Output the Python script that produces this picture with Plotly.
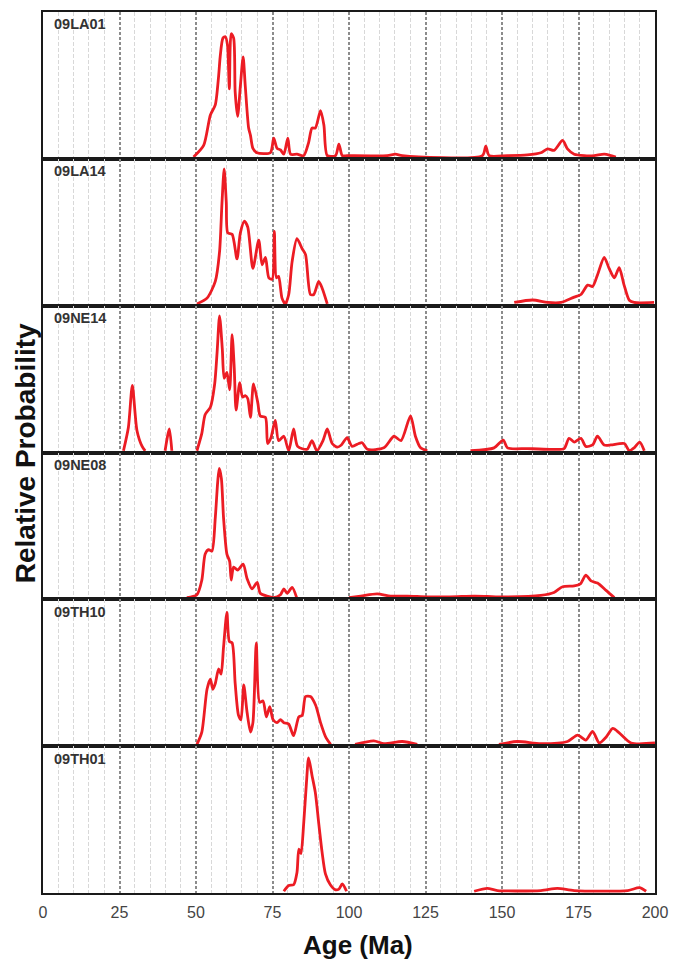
import plotly.graph_objects as go
from plotly.subplots import make_subplots

sample_names = ["09LA01", "09LA14", "09NE14", "09NE08", "09TH10", "09TH01"]
tick_values = [0, 25, 50, 75, 100, 125, 150, 175, 200]
tick_labels = ["0", "25", "50", "75", "100", "125", "150", "175", "200"]

# 09LA01
age_la01 = [49.2, 52.5, 54.7, 56.3, 57.4, 57.9, 58.8, 59.6, 60.3, 60.9, 61.5, 62.3, 62.8, 63.6, 64.5,
            65.4, 66.1, 67.2, 67.8, 68.6, 69.9, 74.3, 75.4, 76.5, 77.6, 78.7, 80.0, 80.9, 83.0, 85.2,
            86.8, 87.9, 89.0, 90.7, 91.8, 92.9, 95.6, 96.7, 97.8, 99.4, 112.5, 115.2, 117.4, 143.6,
            144.7, 145.8, 151.8, 158.3, 162.7, 164.9, 167.0, 169.8, 171.4, 173.6, 176.9, 180.1,
            183.4, 185.6, 187.2]
prob_la01 = [0, 0.08, 0.29, 0.36, 0.56, 0.69, 0.82, 0.83, 0.77, 0.47, 0.85, 0.82, 0.45, 0.28, 0.49,
             0.69, 0.49, 0.20, 0.15, 0.06, 0.03, 0.03, 0.13, 0.06, 0.05, 0.02, 0.13, 0.02, 0.02, 0.01,
             0.10, 0.20, 0.20, 0.32, 0.22, 0.01, 0.01, 0.09, 0.01, 0.01, 0.01, 0.02, 0.01, 0.01,
             0.076, 0.01, 0.01, 0.015, 0.03, 0.057, 0.046, 0.115, 0.057, 0.02, 0.01, 0.01,
             0.02, 0.01, 0]

# 09LA14
age_la14 = [50.3, 53.6, 56.3, 57.7, 58.5, 59.2, 59.9, 60.4, 61.8, 63.4, 64.5, 65.8, 66.9, 68.6, 70.5,
            71.6, 72.7, 73.8, 74.9, 75.6, 76.3, 77.0, 78.1, 79.2, 80.3, 81.4, 83.0, 84.7, 85.8, 87.4,
            88.5, 90.1, 91.2, 92.9, None, 154.0, 160.0, 164.9, 169.3, 173.6, 175.8, 178.0, 179.6,
            181.2, 183.4, 185.0, 186.7, 188.3, 189.9, 191.6, 193.2, 199.7]
prob_la14 = [0.0, 0.04, 0.155, 0.36, 0.70, 0.93, 0.70, 0.49, 0.48, 0.31, 0.49, 0.57, 0.53, 0.245, 0.44,
             0.27, 0.32, 0.18, 0.17, 0.50, 0.18, 0.19, 0.04, 0.0, 0.065, 0.29, 0.45, 0.38, 0.34, 0.065,
             0.065, 0.155, 0.11, 0.0, None, 0.01, 0.027, 0.01, 0.01, 0.047, 0.065, 0.13, 0.12,
             0.20, 0.32, 0.245, 0.18, 0.25, 0.13, 0.025, 0.01, 0.01]

# 09NE14
age_ne14 = [26.3, 27.9, 29.2, 30.7, 32.4, 33.4, None, 39.9, 40.7, 41.3, 42.1, None,
            50.3, 51.9, 53.0, 54.7, 56.1, 56.9, 57.7, 58.6, 59.2, 60.1, 61.0, 61.8, 62.5, 63.1, 64.3,
            65.2, 66.1, 66.9, 67.8, 68.8, 70.2, 71.0, 72.7, 73.4, 74.5, 75.9, 77.0, 78.7, 80.3, 81.9,
            83.2, 86.3, 87.9, 89.5, 91.5, 92.9, 94.5, 96.2, 97.5, 99.4, 101.0, 103.2, 104.3, 106.0,
            111.4, 114.7, 117.0, 120.1, 121.7, 123.4, 125.6, None,
            139.7, 147.4, 150.4, 151.8, 158.3, 165.9, 170.3, 171.9, 173.6, 175.8, 177.4, 179.6,
            181.2, 183.4, 185.6, 190.0, 191.6, 193.2, 195.0, 196.5]
prob_ne14 = [0, 0.16, 0.45, 0.14, 0.03, 0, None, 0, 0.10, 0.15, 0, None,
             0, 0.12, 0.25, 0.30, 0.46, 0.68, 0.93, 0.70, 0.50, 0.54, 0.42, 0.80, 0.57, 0.28, 0.47,
             0.37, 0.38, 0.36, 0.23, 0.46, 0.33, 0.24, 0.23, 0.05, 0.09, 0.21, 0.07, 0.10, 0.0, 0.15,
             0.03, 0.01, 0.07, 0.0, 0.07, 0.15, 0.05, 0.025, 0.04, 0.09, 0.03, 0.05, 0.055, 0.01,
             0.02, 0.10, 0.07, 0.24, 0.10, 0.02, 0.0, None,
             0.0, 0.02, 0.074, 0.02, 0.015, 0.01, 0.015, 0.086, 0.06, 0.086, 0.03, 0.04,
             0.10, 0.04, 0.04, 0.05, 0.0, 0.02, 0.06, 0.0]

# 09NE08
age_ne08 = [47.0, 50.3, 51.9, 53.0, 54.1, 55.2, 56.3, 57.1, 57.6, 58.3, 59.0, 60.1, 61.0, 61.5, 62.3,
            63.6, 65.4, 66.7, 68.3, 70.0, 71.0, 73.2, 75.4, 77.6, 78.7, 79.8, 81.4, 82.9, None,
            100.0, 103.8, 109.2, 113.6, 119.0, 125.6, 133.0, 140.9, 145.2, 150.7, 162.7, 167.0,
            169.8, 173.6, 175.6, 177.4, 179.1, 181.2, 184.0, 186.7]
prob_ne08 = [0, 0.02, 0.12, 0.30, 0.33, 0.32, 0.55, 0.80, 0.89, 0.82, 0.55, 0.30, 0.25, 0.12, 0.21,
             0.19, 0.23, 0.13, 0.06, 0.105, 0.03, 0.01, 0.0, 0.02, 0.06, 0.03, 0.07, 0.0, None,
             0.0, 0.01, 0.025, 0.01, 0.01, 0.005, 0.005, 0.01, 0.008, 0.005, 0.015, 0.035,
             0.075, 0.08, 0.094, 0.155, 0.115, 0.10, 0.05, 0.0]

# 09TH10
age_th10 = [50.3, 51.9, 53.6, 54.7, 55.5, 56.3, 57.4, 58.2, 59.0, 60.1, 60.9, 61.8, 62.8, 63.9, 64.7,
            65.6, 66.7, 67.8, 68.6, 69.7, 70.8, 71.9, 73.0, 74.1, 75.2, 76.5, 77.6, 78.7, 80.3, 81.9,
            83.6, 84.7, 85.8, 87.4, 89.1, 90.7, 92.4, 94.0, None,
            102.0, 108.1, 111.4, 117.4, 122.3, None,
            149.0, 155.0, 162.7, 171.4, 174.7, 177.4, 179.6, 181.8, 184.0, 186.2, 188.3, 192.2, 200.0]
prob_th10 = [0, 0.085, 0.38, 0.45, 0.38, 0.42, 0.52, 0.485, 0.67, 0.91, 0.71, 0.70, 0.42, 0.20, 0.17,
             0.41, 0.22, 0.085, 0.15, 0.70, 0.29, 0.30, 0.19, 0.26, 0.17, 0.15, 0.17, 0.15, 0.14, 0.06,
             0.19, 0.20, 0.33, 0.33, 0.27, 0.15, 0.05, 0.0, None,
             0.0, 0.025, 0.005, 0.02, 0.0, None,
             0.0, 0.02, 0.005, 0.02, 0.064, 0.03, 0.09, 0.01, 0.05, 0.11, 0.08, 0.01, 0.01]

# 09TH01
age_th01 = [78.7, 80.3, 81.9, 83.0, 83.6, 84.3, 85.2, 86.1, 86.8, 87.9, 89.0, 90.1, 91.2, 92.3, 93.9,
            95.6, 96.7, 97.8, 99.2, None, 140.9, 145.2, 148.5, 162.7, 168.1, 173.6, 191.1, 194.9, 197.1]
prob_th01 = [0, 0.04, 0.045, 0.13, 0.29, 0.26, 0.47, 0.75, 0.92, 0.80, 0.68, 0.47, 0.27, 0.12, 0.045,
             0.01, 0.015, 0.05, 0.0, None, 0.0, 0.02, 0.005, 0.005, 0.02, 0.005, 0.005, 0.025, 0.0]

ages = [age_la01, age_la14, age_ne14, age_ne08, age_th10, age_th01]
probs = [prob_la01, prob_la14, prob_ne14, prob_ne08, prob_th10, prob_th01]

FONT = "Liberation Sans, Arial, Helvetica, sans-serif"
n = len(sample_names)

fig = make_subplots(rows=n, cols=1, shared_xaxes=True, vertical_spacing=0)

for i, (name, a, p) in enumerate(zip(sample_names, ages, probs)):
    fig.add_trace(go.Scatter(x=a, y=p, mode="lines", name=name, connectgaps=False,
                             line=dict(color="#ec1c24", width=2.8, shape="spline", smoothing=0.7),
                             showlegend=False),
                  row=i + 1, col=1)
    yref = "y domain" if i == 0 else f"y{i + 1} domain"
    fig.add_annotation(text=f"<b>{name}</b>", xref="paper", yref=yref, x=0.015, y=0.915,
                       xanchor="left", yanchor="middle", showarrow=False,
                       font=dict(family=FONT, size=14.5, color="#333333"))

for i in range(n):
    fig.update_xaxes(range=[0, 200], tickvals=tick_values, ticktext=tick_labels,
                     showgrid=True, gridcolor="#8c8c8c", gridwidth=1.6, griddash="3px,2px",
                     minor=dict(tickvals=[v for v in range(5, 200, 5) if v % 25 != 0],
                                showgrid=True, gridcolor="#d8d8d8", gridwidth=1, griddash="4px,2px"),
                     showline=True, mirror=True, linecolor="#1a1a1a", linewidth=2.2,
                     zeroline=False, ticks="outside", ticklen=4, tickcolor="rgba(0,0,0,0)",
                     showticklabels=(i == n - 1),
                     tickfont=dict(family=FONT, size=16, color="#444444"),
                     row=i + 1, col=1)
    fig.update_yaxes(range=[-0.012, 1.0], showgrid=False, zeroline=False, showticklabels=False,
                     ticks="", showline=True, mirror=True, linecolor="#1a1a1a", linewidth=2.2,
                     row=i + 1, col=1)

fig.add_annotation(text="<b>Age (Ma)</b>", xref="paper", yref="paper", x=0.515, y=-0.059,
                   xanchor="center", yanchor="middle", showarrow=False,
                   font=dict(family=FONT, size=26, color="#111111"))
fig.add_annotation(text="<b>Relative Probability</b>", xref="paper", yref="paper", x=-0.028, y=0.499,
                   xanchor="center", yanchor="middle", showarrow=False, textangle=-90,
                   font=dict(family=FONT, size=28, color="#111111"))

fig.update_layout(width=683, height=962, margin=dict(l=43, r=28, t=10, b=69),
                  paper_bgcolor="white", plot_bgcolor="white",
                  font=dict(family=FONT))

fig.write_html("out.html", config={"displayModeBar": False},
               post_script="document.body.style.margin='0px';")
